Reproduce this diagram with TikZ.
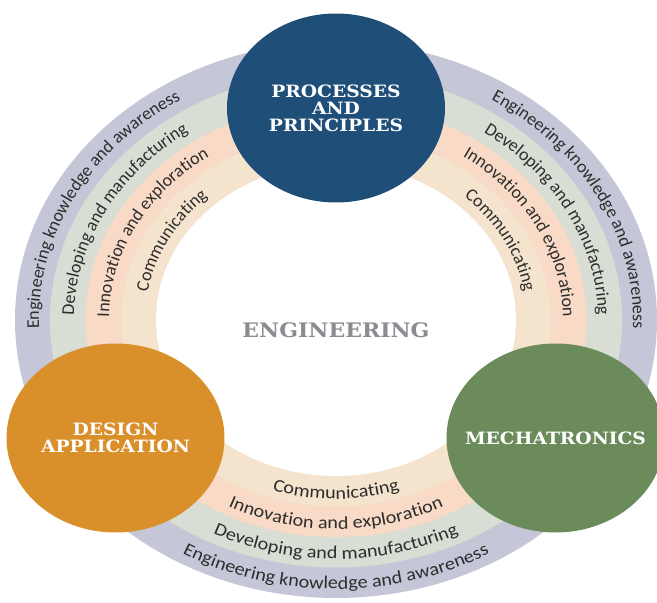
\documentclass[tikz,border=0pt]{standalone}
\usepackage{fontspec}
\usepackage{xcolor}
\usepackage{tikz}
\usetikzlibrary{shapes.geometric,decorations.text}

\newfontfamily\ringfont{Carlito}
\newfontfamily\ringwidefont[FakeStretch=1.12]{Carlito}
\newfontfamily\hubfont[FakeStretch=1.1]{DejaVu Serif}

\definecolor{procblue}{RGB}{31,78,121}
\definecolor{designorange}{RGB}{217,143,42}
\definecolor{mechgreen}{RGB}{107,139,91}
\definecolor{bandpurple}{RGB}{197,199,216}
\definecolor{bandgreen}{RGB}{216,222,211}
\definecolor{bandpeach}{RGB}{248,218,198}
\definecolor{bandcream}{RGB}{245,228,205}
\definecolor{ringtext}{RGB}{45,45,45}
\definecolor{coregray}{RGB}{138,140,145}

\newcommand\ringstyle{\ringfont\fontsize{18}{20}\selectfont\color{ringtext}}
\newcommand\ringwidestyle{\ringwidefont\fontsize{18}{20}\selectfont\color{ringtext}}

\tikzset{
  hub/.style={ellipse, inner sep=0pt, minimum width=218pt, minimum height=189pt},
  hublabel/.style={text=white, align=center, inner sep=0pt,
    font=\hubfont\bfseries\fontsize{17}{17}\selectfont},
  core/.style={text=coregray, font=\hubfont\bfseries\fontsize{20}{20}\selectfont}
}

\begin{document}
\begin{tikzpicture}[x=1pt,y=1pt]
  \useasboundingbox (-336,-283) rectangle (321,320);
  % rings, outside in
  \foreach \a/\b/\c in {321/278/bandpurple,286/247.5/bandgreen,
                        250.5/217/bandpeach,215/186.5/bandcream,180/156/white}
    \fill[\c] (0,0) ellipse [x radius=\a, y radius=\b];
  % left side
  \foreach \ra/\rb/\words in {297/258/Engineering knowledge and awareness,
                              262/227/Developing and manufacturing,
                              227/197/Innovation and exploration,
                              191/166/Communicating}
    \path[decorate, decoration={text along path, text align=center,
      text/.expanded={|\noexpand\ringstyle|\words}}]
      (206:{\ra} and {\rb}) arc[start angle=206, end angle=100, x radius=\ra, y radius=\rb];
  % right side
  \foreach \ra/\rb/\words in {297/258/Engineering knowledge and awareness,
                              262/227/Developing and manufacturing,
                              227/197/Innovation and exploration,
                              191/166/Communicating}
    \path[decorate, decoration={text along path, text align=center,
      text/.expanded={|\noexpand\ringstyle|\words}}]
      (80:{\ra} and {\rb}) arc[start angle=80, end angle=-26, x radius=\ra, y radius=\rb];
  % bottom
  \foreach \ra/\rb/\words in {309/269/Engineering knowledge and awareness,
                              274/239/Developing and manufacturing,
                              239/209/Innovation and exploration,
                              204/179/Communicating}
    \path[decorate, decoration={text along path, text align=center,
      text/.expanded={|\noexpand\ringwidestyle|\words}}]
      (218:{\ra} and {\rb}) arc[start angle=218, end angle=322, x radius=\ra, y radius=\rb];

  \node[hub, fill=procblue, label={[hublabel]center:{PROCESSES\\AND\\PRINCIPLES}}]
    (proc) at (0,212) {};
  \node[hub, fill=designorange, label={[hublabel]center:{DESIGN\\APPLICATION}}]
    (design) at (-220.5,-118) {};
  \node[hub, fill=mechgreen, label={[hublabel]center:MECHATRONICS}]
    (mech) at (219.5,-118) {};
  \node[core] (eng) at (0,-10) {ENGINEERING};
\end{tikzpicture}
\end{document}
